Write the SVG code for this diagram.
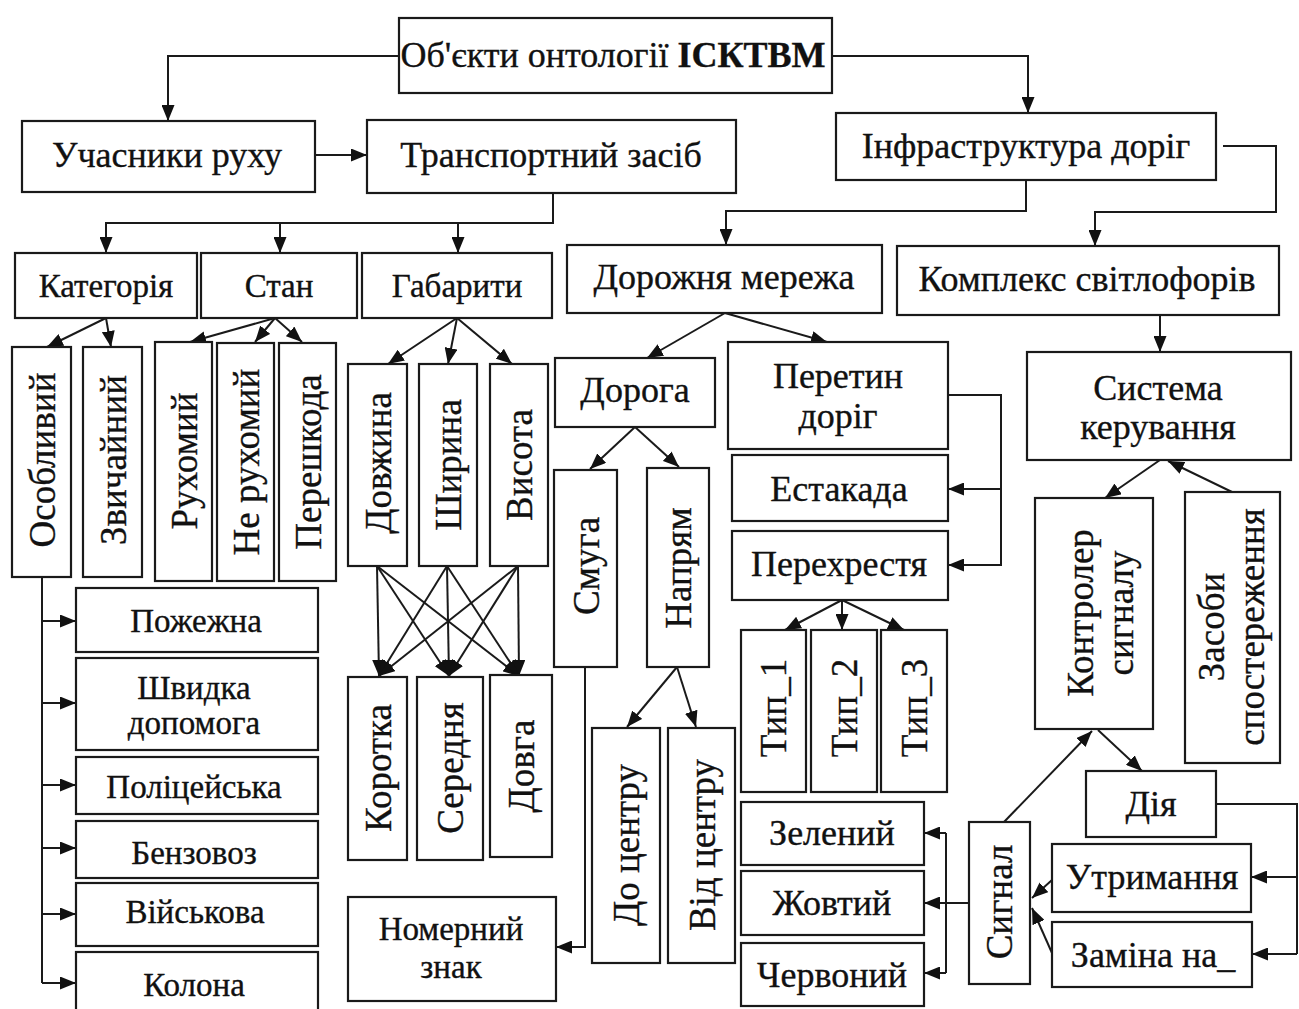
<svg xmlns="http://www.w3.org/2000/svg" width="1299" height="1009" viewBox="0 0 1299 1009">
<style>
.b{fill:#fff;stroke:#1a1a1a;stroke-width:2.2}
.c{fill:none;stroke:#1a1a1a;stroke-width:2}
text{font-family:"Liberation Serif","Times New Roman",serif;fill:#111;stroke:#111;stroke-width:0.35;text-anchor:middle;dominant-baseline:central}
.L{font-size:36px}
.M{font-size:36px}
.S{font-size:33px}
.V{font-size:37px}
</style>
<defs>
<marker id="a" viewBox="0 0 16 13" refX="16" refY="6.5" markerWidth="16" markerHeight="13" markerUnits="userSpaceOnUse" orient="auto"><path d="M0,0 L16,6.5 L0,13 z" fill="#111"/></marker>
</defs>
<rect width="1299" height="1009" fill="#fff"/>

<g id="connectors" class="c" marker-end="url(#a)">
<path d="M399,56 H168 V121"/>
<path d="M832,56 H1028 V113"/>
<path d="M315,155 H367"/>
<path d="M553,193 V223 H106 V253"/>
<path d="M280,223 V253"/>
<path d="M458,223 V253"/>
<path d="M1026,180 V211 H726 V245"/>
<path d="M1223,146 H1276 V212 H1095 V246"/>
<path d="M1160,315 V352"/>
<path d="M1160,460 L1105,498"/>
<path d="M1232,492 L1168,461"/>
<path d="M1098,730 L1142,771"/>
<path d="M1004,822 L1092,731"/>
<path d="M1216,804 H1297 V954" marker-end="none"/>
<path d="M1297,877 H1251"/>
<path d="M1297,954 H1252"/>
<path d="M1052,880 L1032,898"/>
<path d="M1052,953 L1032,908"/>
<path d="M969,903 H946" marker-end="none"/>
<path d="M946,833 V973" marker-end="none"/>
<path d="M946,833 H924"/>
<path d="M946,903 H924"/>
<path d="M946,973 H924"/>
<path d="M948,395 H1001 V565 H948"/>
<path d="M1001,489 H948"/>
<path d="M842,600 L785,630"/>
<path d="M842,600 V630"/>
<path d="M842,600 L904,630"/>
<path d="M725,313 L647,358"/>
<path d="M725,313 L827,342"/>
<path d="M635,427 L590,469"/>
<path d="M635,427 L679,467"/>
<path d="M677,667 L627,727"/>
<path d="M677,667 L696,727"/>
<path d="M585,667 V947 H556"/>
<path d="M377,566 L379,676"/>
<path d="M377,566 L449,676"/>
<path d="M377,566 L519,676"/>
<path d="M447,566 L379,676"/>
<path d="M447,566 L449,676"/>
<path d="M447,566 L519,676"/>
<path d="M518,566 L379,676"/>
<path d="M518,566 L449,676"/>
<path d="M518,566 L519,676"/>
<path d="M457,318 L388,364"/>
<path d="M457,318 L448,364"/>
<path d="M457,318 L512,364"/>
<path d="M106,318 L47,347"/>
<path d="M106,318 L111,347"/>
<path d="M275,318 L190,342"/>
<path d="M275,318 L255,342"/>
<path d="M275,318 L302,342"/>
<path d="M42,577 V983" marker-end="none"/>
<path d="M42,621 H76"/>
<path d="M42,703 H76"/>
<path d="M42,785 H76"/>
<path d="M42,848 H76"/>
<path d="M42,914 H76"/>
<path d="M42,983 H76"/>
</g>

<g id="n-root"><rect class="b" x="399" y="18" width="433" height="75"/><text class="L" x="613" y="55">Об'єкти онтології <tspan font-weight="bold">ІСКТВМ</tspan></text></g>
<g id="n-uchasnyky"><rect class="b" x="22" y="121" width="293" height="71"/><text class="L" x="167" y="155">Учасники руху</text></g>
<g id="n-transport"><rect class="b" x="367" y="120" width="369" height="73"/><text class="L" x="551" y="155">Транспортний засіб</text></g>
<g id="n-infra"><rect class="b" x="836" y="113" width="380" height="67"/><text class="L" x="1026" y="146">Інфраструктура доріг</text></g>
<g id="n-kategoria"><rect class="b" x="15" y="253" width="182" height="65"/><text class="S" x="106" y="286">Категорія</text></g>
<g id="n-stan"><rect class="b" x="201" y="253" width="156" height="65"/><text class="S" x="279" y="286">Стан</text></g>
<g id="n-gabaryty"><rect class="b" x="362" y="253" width="190" height="65"/><text class="S" x="457" y="286">Габарити</text></g>
<g id="n-merezha"><rect class="b" x="567" y="245" width="315" height="68"/><text class="M" x="724" y="277">Дорожня мережа</text></g>
<g id="n-kompleks"><rect class="b" x="897" y="246" width="382" height="69"/><text class="M" x="1087" y="279">Комплекс світлофорів</text></g>
<g id="n-systema"><rect class="b" x="1027" y="352" width="264" height="108"/><text class="M" x="1158" y="388">Система</text><text class="M" x="1158" y="427">керування</text></g>
<g id="n-kontroler"><rect class="b" x="1035" y="498" width="118" height="231"/><text class="V" transform="translate(1100,613) rotate(-90)" y="-20">Контролер</text><text class="V" transform="translate(1100,613) rotate(-90)" y="20">сигналу</text></g>
<g id="n-zasoby"><rect class="b" x="1185" y="492" width="95" height="271"/><text class="V" transform="translate(1231,627) rotate(-90)" y="-20">Засоби</text><text class="V" transform="translate(1231,627) rotate(-90)" y="20">спостереження</text></g>
<g id="n-diia"><rect class="b" x="1086" y="771" width="130" height="66"/><text class="M" x="1151" y="804">Дія</text></g>
<g id="n-utrymannia"><rect class="b" x="1052" y="844" width="199" height="68"/><text class="M" x="1152" y="877">Утримання</text></g>
<g id="n-zamina"><rect class="b" x="1052" y="922" width="200" height="65"/><text class="M" x="1153" y="955">Заміна на_</text></g>
<g id="n-syhnal"><rect class="b" x="969" y="822" width="61" height="162"/><text class="V" transform="translate(999,902) rotate(-90)">Сигнал</text></g>
<g id="n-zelenyi"><rect class="b" x="741" y="802" width="183" height="63"/><text class="M" x="832" y="833">Зелений</text></g>
<g id="n-zhovtyi"><rect class="b" x="741" y="871" width="183" height="64"/><text class="M" x="832" y="903">Жовтий</text></g>
<g id="n-chervonyi"><rect class="b" x="741" y="943" width="183" height="63"/><text class="M" x="832" y="975">Червоний</text></g>
<g id="n-typ1"><rect class="b" x="741" y="630" width="65" height="162"/><text class="V" transform="translate(773,708) rotate(-90)">Тип_1</text></g>
<g id="n-typ2"><rect class="b" x="811" y="630" width="66" height="162"/><text class="V" transform="translate(844,708) rotate(-90)">Тип_2</text></g>
<g id="n-typ3"><rect class="b" x="881" y="630" width="66" height="162"/><text class="V" transform="translate(914,708) rotate(-90)">Тип_3</text></g>
<g id="n-perekhrestia"><rect class="b" x="732" y="531" width="216" height="69"/><text class="M" x="839" y="564">Перехрестя</text></g>
<g id="n-estakada"><rect class="b" x="732" y="455" width="216" height="66"/><text class="M" x="839" y="489">Естакада</text></g>
<g id="n-peretyn"><rect class="b" x="728" y="342" width="220" height="107"/><text class="M" x="838" y="376">Перетин</text><text class="M" x="838" y="416">доріг</text></g>
<g id="n-doroga"><rect class="b" x="555" y="358" width="160" height="69"/><text class="M" x="635" y="390">Дорога</text></g>
<g id="n-smuga"><rect class="b" x="554" y="470" width="63" height="197"/><text class="V" transform="translate(586,566) rotate(-90)">Смуга</text></g>
<g id="n-napriam"><rect class="b" x="647" y="468" width="62" height="199"/><text class="V" transform="translate(678,568) rotate(-90)">Напрям</text></g>
<g id="n-do-tsentru"><rect class="b" x="592" y="728" width="68" height="235"/><text class="V" transform="translate(626,845) rotate(-90)">До центру</text></g>
<g id="n-vid-tsentru"><rect class="b" x="668" y="728" width="67" height="235"/><text class="V" transform="translate(702,845) rotate(-90)">Від центру</text></g>
<g id="n-nomernyi"><rect class="b" x="348" y="897" width="208" height="104"/><text class="S" x="451" y="929">Номерний</text><text class="S" x="451" y="967">знак</text></g>
<g id="n-dovzhyna"><rect class="b" x="348" y="364" width="59" height="202"/><text class="V" transform="translate(378,463) rotate(-90)">Довжина</text></g>
<g id="n-shyryna"><rect class="b" x="419" y="364" width="58" height="202"/><text class="V" transform="translate(448,465) rotate(-90)">Ширина</text></g>
<g id="n-vysota"><rect class="b" x="490" y="364" width="58" height="202"/><text class="V" transform="translate(519,465) rotate(-90)">Висота</text></g>
<g id="n-korotka"><rect class="b" x="348" y="677" width="59" height="183"/><text class="V" transform="translate(378,768) rotate(-90)">Коротка</text></g>
<g id="n-serednia"><rect class="b" x="417" y="677" width="66" height="183"/><text class="V" transform="translate(450,768) rotate(-90)">Середня</text></g>
<g id="n-dovga"><rect class="b" x="490" y="675" width="62" height="182"/><text class="V" transform="translate(521,766) rotate(-90)">Довга</text></g>
<g id="n-osoblyvyi"><rect class="b" x="12" y="347" width="59" height="230"/><text class="V" transform="translate(42,460) rotate(-90)">Особливий</text></g>
<g id="n-zvychainyi"><rect class="b" x="83" y="347" width="59" height="230"/><text class="V" transform="translate(113,460) rotate(-90)">Звичайний</text></g>
<g id="n-rukhomyi"><rect class="b" x="155" y="342" width="57" height="239"/><text class="V" transform="translate(184,461) rotate(-90)">Рухомий</text></g>
<g id="n-ne-rukhomyi"><rect class="b" x="217" y="343" width="57" height="238"/><text class="V" transform="translate(246,462) rotate(-90)">Не рухомий</text></g>
<g id="n-pereshkoda"><rect class="b" x="279" y="343" width="57" height="238"/><text class="V" transform="translate(308,462) rotate(-90)">Перешкода</text></g>
<g id="n-pozhezhna"><rect class="b" x="76" y="588" width="242" height="64"/><text class="S" x="196" y="621">Пожежна</text></g>
<g id="n-shvydka"><rect class="b" x="76" y="658" width="242" height="92"/><text class="S" x="194" y="688">Швидка</text><text class="S" x="194" y="723">допомога</text></g>
<g id="n-politseiska"><rect class="b" x="76" y="757" width="242" height="57"/><text class="S" x="194" y="787">Поліцейська</text></g>
<g id="n-benzovoz"><rect class="b" x="76" y="821" width="242" height="57"/><text class="S" x="194" y="853">Бензовоз</text></g>
<g id="n-viiskova"><rect class="b" x="76" y="883" width="242" height="63"/><text class="S" x="195" y="912">Військова</text></g>
<g id="n-kolona"><rect class="b" x="76" y="952" width="242" height="62"/><text class="S" x="194" y="985">Колона</text></g>
</svg>
